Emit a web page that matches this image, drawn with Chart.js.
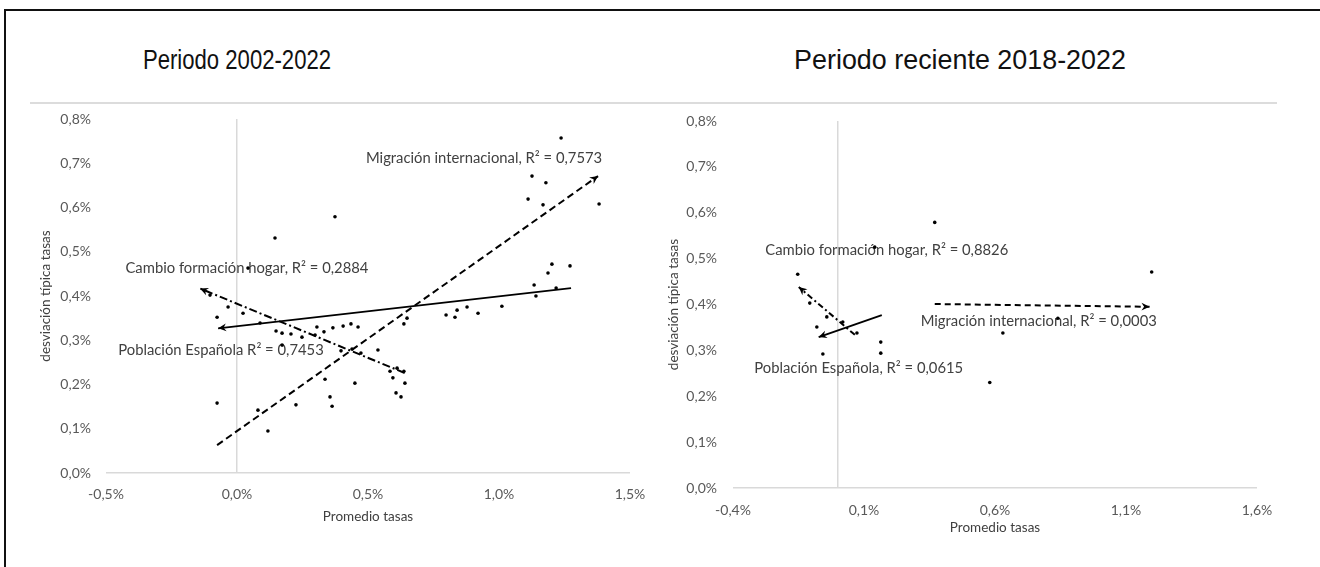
<!DOCTYPE html>
<html>
<head>
<meta charset="utf-8">
<script src="https://cdn.jsdelivr.net/npm/chart.js@4.4.1/dist/chart.umd.min.js"></script>
<style>
    body { margin: 0; background: #fff; overflow: hidden; }
    #page { position: relative; width: 1320px; height: 567px; overflow: hidden; background: #fff; }
    .frame-left { position: absolute; left: 4px; top: 9px; width: 2px; height: 570px; background: #111; }
    .frame-top { position: absolute; left: 4px; top: 9px; width: 1330px; height: 2px; background: #111; }
    .rule { position: absolute; left: 30px; top: 102px; width: 1247px; height: 2px; background: #dcdcdc; }
    .title {
        position: absolute; top: 44px; white-space: nowrap;
        font-family: 'Liberation Sans', Arial, sans-serif; font-size: 28px; color: #111;
    }
    canvas { position: absolute; top: 100px; }
</style>
</head>
<body>
<div id="page">
    <div class="frame-left"></div>
    <div class="frame-top"></div>
    <div class="rule"></div>
    <div class="title" style="left: 237px; transform: translateX(-50%) scaleX(0.79);">Periodo 2002-2022</div>
    <div class="title" style="left: 960px; transform: translateX(-50%) scaleX(0.96);">Periodo reciente 2018-2022</div>
    <canvas id="chartFull" width="660" height="450" style="left: 0;"></canvas>
    <canvas id="chartRecent" width="660" height="450" style="left: 660px;"></canvas>
</div>
<script>
// Values are in percent (0.5 means 0,5%).
const yTicks = [0, 0.1, 0.2, 0.3, 0.4, 0.5, 0.6, 0.7, 0.8];
const fullXTicks = [-0.5, 0, 0.5, 1.0, 1.5];
const recentXTicks = [-0.4, 0.1, 0.6, 1.1, 1.6];

// Periodo 2002-2022
const fullPopX = [0.305, 0.298, 0.332, 0.366, 0.405, 0.435, 0.462, 0.637, 0.649, 0.798, 0.832, 0.840, 0.878, 0.920, 1.011, 1.202, 1.271, 1.187, 1.134, 1.141, 1.218, 0.042];
const fullPopY = [0.330, 0.312, 0.319, 0.328, 0.332, 0.337, 0.330, 0.337, 0.350, 0.357, 0.352, 0.368, 0.375, 0.361, 0.377, 0.472, 0.468, 0.452, 0.425, 0.400, 0.418, 0.463];
const fullMigX = [0.145, 0.225, 0.080, 0.118, -0.076, 0.336, 0.355, 0.363, 0.450, 0.374, 1.237, 1.126, 1.179, 1.111, 1.168, 1.382, 0.397, 0.439, 0.538];
const fullMigY = [0.531, 0.154, 0.142, 0.095, 0.158, 0.212, 0.172, 0.151, 0.203, 0.579, 0.757, 0.671, 0.656, 0.619, 0.606, 0.608, 0.276, 0.280, 0.278];
const fullHogX = [-0.076, -0.034, 0.023, -0.103, 0.088, 0.149, 0.172, 0.206, 0.248, 0.584, 0.611, 0.637, 0.595, 0.641, 0.607, 0.626, 0.473, 0.172];
const fullHogY = [0.352, 0.375, 0.361, 0.402, 0.339, 0.321, 0.316, 0.314, 0.307, 0.230, 0.237, 0.230, 0.215, 0.203, 0.181, 0.172, 0.271, 0.289];

// Trend lines, arrow end last
const fullPopTrendX = [1.275, -0.072];
const fullPopTrendY = [0.418, 0.327];
const fullMigTrendX = [-0.076, 1.378];
const fullMigTrendY = [0.063, 0.671];
const fullHogTrendX = [0.640, -0.141];
const fullHogTrendY = [0.226, 0.417];

// Periodo reciente 2018-2022
const recentPopX = [0.073, 0.164, 0.164, -0.057, 0.141];
const recentPopY = [0.338, 0.318, 0.294, 0.292, 0.525];
const recentMigX = [0.370, 0.580, 1.198, 0.630, 0.840];
const recentMigY = [0.579, 0.230, 0.471, 0.338, 0.370];
const recentHogX = [-0.153, -0.107, -0.042, 0.019, -0.080];
const recentHogY = [0.466, 0.403, 0.373, 0.362, 0.351];

const recentPopTrendX = [0.168, -0.073];
const recentPopTrendY = [0.377, 0.329];
const recentMigTrendX = [0.370, 1.190];
const recentMigTrendY = [0.401, 0.395];
const recentHogTrendX = [0.065, -0.149];
const recentHogTrendY = [0.334, 0.438];

const fullNotes = [
    { text: 'Migración internacional, R² = 0,7573', x: 0.943, y: 0.712 },
    { text: 'Cambio formación hogar, R² = 0,2884', x: 0.038, y: 0.463 },
    { text: 'Población Española R² = 0,7453', x: -0.061, y: 0.278 },
];
const recentNotes = [
    { text: 'Cambio formación hogar, R² = 0,8826', x: 0.187, y: 0.519 },
    { text: 'Migración internacional, R² = 0,0003', x: 0.767, y: 0.364 },
    { text: 'Población Española, R² = 0,0615', x: 0.080, y: 0.262 },
];

const tickFont = { family: 'Lato, "Open Sans", sans-serif', size: 14 };
const axisFont = { family: 'Lato, "Open Sans", sans-serif', size: 13.5 };
const noteFont = '14.8px Lato, "Open Sans", sans-serif';

const pctLabel = (v) => v.toFixed(1).replace('.', ',') + '%';
const zeroLine = (ctx) => (ctx.tick && Math.abs(ctx.tick.value) < 1e-9 ? '#d9d9d9' : 'rgba(0,0,0,0)');
const points = (xs, ys) => xs.map((x, i) => ({ x, y: ys[i] }));

function dotSet(xs, ys) {
    return { data: points(xs, ys), showLine: false, pointRadius: 1.8, pointBackgroundColor: '#000', pointBorderWidth: 0 };
}

function trendSet(xs, ys, dash, width) {
    return {
        data: points(xs, ys), showLine: true, borderColor: '#000', borderWidth: width,
        borderDash: dash, pointRadius: 0, arrow: true,
    };
}

// Arrow heads on the trend lines and the R² notes.
const notes = {
    id: 'notes',
    beforeDatasetsDraw(chart, args, opts) {
        const { ctx, scales: { x, y } } = chart;
        ctx.save();
        ctx.font = noteFont;
        ctx.fillStyle = '#404040';
        ctx.textAlign = 'center';
        ctx.textBaseline = 'middle';
        opts.labels.forEach((l) => ctx.fillText(l.text, x.getPixelForValue(l.x), y.getPixelForValue(l.y)));
        ctx.restore();
    },
    afterDatasetsDraw(chart) {
        const { ctx } = chart;
        chart.data.datasets.forEach((ds, i) => {
            if (!ds.arrow) return;
            const pts = chart.getDatasetMeta(i).data;
            const a = pts[pts.length - 2];
            const b = pts[pts.length - 1];
            const ang = Math.atan2(b.y - a.y, b.x - a.x);
            ctx.save();
            ctx.fillStyle = '#000';
            ctx.beginPath();
            ctx.moveTo(b.x, b.y);
            ctx.lineTo(b.x - 9 * Math.cos(ang - 0.45), b.y - 9 * Math.sin(ang - 0.45));
            ctx.lineTo(b.x - 5.5 * Math.cos(ang), b.y - 5.5 * Math.sin(ang));
            ctx.lineTo(b.x - 9 * Math.cos(ang + 0.45), b.y - 9 * Math.sin(ang + 0.45));
            ctx.closePath();
            ctx.fill();
            ctx.restore();
        });
    },
};

function scatterChart(id, cfg) {
    const xAll = [...new Set([...cfg.xTicks, 0])].sort((a, b) => a - b);
    new Chart(document.getElementById(id), {
        type: 'scatter',
        data: { datasets: cfg.datasets },
        options: {
            responsive: false,
            animation: false,
            layout: { padding: cfg.padding },
            plugins: { legend: { display: false }, tooltip: { enabled: false }, notes: { labels: cfg.labels } },
            scales: {
                x: {
                    type: 'linear',
                    min: cfg.xTicks[0],
                    max: cfg.xTicks[cfg.xTicks.length - 1],
                    afterBuildTicks: (s) => { s.ticks = xAll.map((value) => ({ value })); },
                    afterFit: (s) => { s.height = cfg.xHeight; },
                    ticks: {
                        autoSkip: false, maxRotation: 0, padding: cfg.xTickPad, color: '#595959', font: tickFont,
                        callback: (v) => (cfg.xTicks.includes(v) ? pctLabel(v) : ''),
                    },
                    grid: { color: zeroLine, lineWidth: 1.5, drawTicks: false },
                    border: { display: false },
                    title: { display: true, text: 'Promedio tasas', color: '#404040', font: axisFont, padding: { top: 0, bottom: cfg.xTitlePad } },
                },
                y: {
                    type: 'linear',
                    min: 0,
                    max: 0.8,
                    afterBuildTicks: (s) => { s.ticks = yTicks.map((value) => ({ value })); },
                    // fixed width, and let layout padding alone set the top of the plot
                    afterFit: (s) => { s.width = cfg.yWidth; s.paddingTop = 0; s.paddingBottom = 0; },
                    ticks: { autoSkip: false, padding: cfg.yTickPad, color: '#595959', font: tickFont, callback: pctLabel },
                    grid: { color: zeroLine, lineWidth: 1.5, drawTicks: false },
                    border: { display: false },
                    title: { display: true, text: 'desviación típica tasas', color: '#404040', font: axisFont, padding: { top: cfg.yTitlePad, bottom: 0 } },
                },
            },
        },
        plugins: [notes],
    });
}

function init() {
    scatterChart('chartFull', {
        xTicks: fullXTicks,
        padding: { left: 0, top: 19, right: 30, bottom: 0 },
        yWidth: 106, yTickPad: 15, yTitlePad: 38,
        xHeight: 77, xTickPad: 13, xTitlePad: 25,
        labels: fullNotes,
        datasets: [
            dotSet(fullPopX, fullPopY),
            dotSet(fullMigX, fullMigY),
            dotSet(fullHogX, fullHogY),
            trendSet(fullPopTrendX, fullPopTrendY, [], 1.8),
            trendSet(fullMigTrendX, fullMigTrendY, [7, 4], 2),
            trendSet(fullHogTrendX, fullHogTrendY, [8, 3, 2, 3], 2),
        ],
    });
    scatterChart('chartRecent', {
        xTicks: recentXTicks,
        padding: { left: 0, top: 21, right: 63, bottom: 0 },
        yWidth: 73, yTickPad: 16, yTitlePad: 6,
        xHeight: 62, xTickPad: 14, xTitlePad: 14,
        labels: recentNotes,
        datasets: [
            dotSet(recentPopX, recentPopY),
            dotSet(recentMigX, recentMigY),
            dotSet(recentHogX, recentHogY),
            trendSet(recentPopTrendX, recentPopTrendY, [], 1.8),
            trendSet(recentMigTrendX, recentMigTrendY, [6, 4], 2),
            trendSet(recentHogTrendX, recentHogTrendY, [6, 3, 2, 3], 2),
        ],
    });
}

document.readyState === 'loading'
    ? document.addEventListener('DOMContentLoaded', init)
    : init();
</script>
</body>
</html>
